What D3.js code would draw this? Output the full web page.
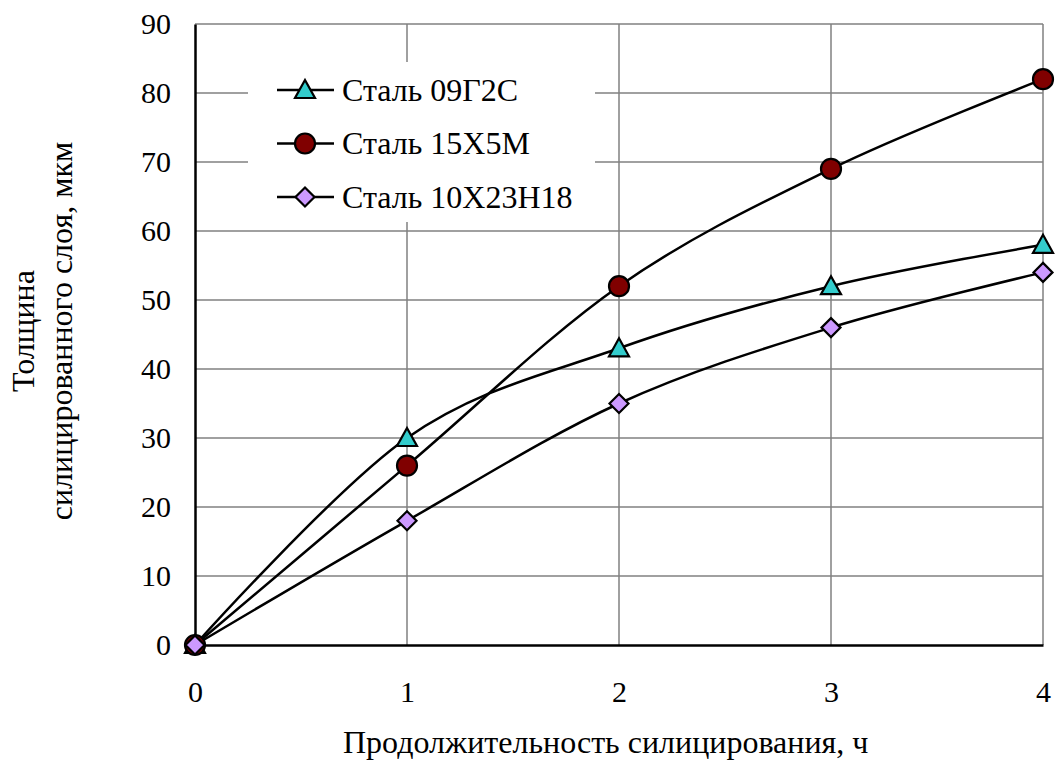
<!DOCTYPE html>
<html>
<head>
<meta charset="utf-8">
<script src="https://cdn.jsdelivr.net/npm/d3@7"></script>
</head>
<body style="margin:0;background:#fff">
<div id="chart"></div>
<script>
// data
var hours = [0, 1, 2, 3, 4];
var steel09 = [0, 30, 43, 52, 58];
var steel15 = [0, 26, 52, 69, 82];
var steel10 = [0, 18, 35, 46, 54];
var seriesNames = ["Сталь 09Г2С", "Сталь 15Х5М", "Сталь 10Х23Н18"];
var yTicks = [0, 10, 20, 30, 40, 50, 60, 70, 80, 90];
var xTicks = [0, 1, 2, 3, 4];

var width = 1056, height = 762;
var plotLeft = 195, plotRight = 1043, plotTop = 24, plotBottom = 645;
var FONT = "Liberation Serif";

var svg = d3.select("#chart").append("svg")
    .attr("width", width)
    .attr("height", height)
    .attr("font-family", FONT);

var x = d3.scaleLinear().domain([0, 4]).range([plotLeft, plotRight]);
var y = d3.scaleLinear().domain([0, 90]).range([plotBottom, plotTop]);

// grid
svg.append("g").selectAll("line")
    .data(yTicks.slice(1))
    .enter().append("line")
    .attr("x1", plotLeft).attr("x2", plotRight)
    .attr("y1", function (d) { return y(d); })
    .attr("y2", function (d) { return y(d); })
    .attr("stroke", "#808080").attr("stroke-width", 1.5);

svg.append("g").selectAll("line")
    .data(xTicks.slice(1))
    .enter().append("line")
    .attr("y1", plotTop).attr("y2", plotBottom)
    .attr("x1", function (d) { return x(d); })
    .attr("x2", function (d) { return x(d); })
    .attr("stroke", "#808080").attr("stroke-width", 1.5);

// legend background hides the grid
svg.append("rect")
    .attr("x", 248).attr("y", 62)
    .attr("width", 347).attr("height", 160)
    .attr("fill", "#fff");

// axes
var yAxis = svg.append("g")
    .attr("transform", "translate(" + plotLeft + ",0)")
    .call(d3.axisLeft(y).tickValues(yTicks).tickSize(0).tickPadding(24));
var xAxis = svg.append("g")
    .attr("transform", "translate(0," + plotBottom + ")")
    .call(d3.axisBottom(x).tickValues(xTicks).tickSize(0).tickPadding(36).tickFormat(d3.format("d")));

[yAxis, xAxis].forEach(function (a) {
    a.attr("font-family", FONT).attr("font-size", 30);
    a.select(".domain").attr("stroke", "#000").attr("stroke-width", 2.5);
    a.selectAll(".tick text").attr("fill", "#000");
});

// lines
var series = [
    { name: seriesNames[0], values: steel09, shape: "triangle", fill: "#33CCCC" },
    { name: seriesNames[1], values: steel15, shape: "circle", fill: "#800000" },
    { name: seriesNames[2], values: steel10, shape: "diamond", fill: "#CC99FF" }
];

var line = d3.line()
    .x(function (d) { return x(d[0]); })
    .y(function (d) { return y(d[1]); })
    .curve(d3.curveCardinal.tension(0));

function drawMarker(g, shape, fill) {
    if (shape === "circle") {
        g.append("circle").attr("r", 10);
    } else if (shape === "triangle") {
        g.append("path").attr("d", "M0,-10L10,8L-10,8Z");
    } else {
        g.append("path").attr("d", "M0,-9.5L9.5,0L0,9.5L-9.5,0Z");
    }
    g.selectAll("*").attr("fill", fill).attr("stroke", "#000").attr("stroke-width", 2.2);
}

series.forEach(function (s) {
    var pts = hours.map(function (h, i) { return [h, s.values[i]]; });
    svg.append("path")
        .attr("d", line(pts))
        .attr("fill", "none")
        .attr("stroke", "#000")
        .attr("stroke-width", 2.5);
});

series.forEach(function (s) {
    hours.forEach(function (h, i) {
        var g = svg.append("g")
            .attr("transform", "translate(" + x(h) + "," + y(s.values[i]) + ")");
        drawMarker(g, s.shape, s.fill);
    });
});

// legend
series.forEach(function (s, i) {
    var cy = 90 + i * 53.5;
    svg.append("line")
        .attr("x1", 277).attr("x2", 334)
        .attr("y1", cy).attr("y2", cy)
        .attr("stroke", "#000").attr("stroke-width", 2.5);
    var g = svg.append("g").attr("transform", "translate(305," + cy + ")");
    drawMarker(g, s.shape, s.fill);
    svg.append("text")
        .attr("x", 342).attr("y", cy)
        .attr("dy", "0.34em")
        .attr("font-family", FONT)
        .attr("font-size", 32)
        .attr("fill", "#000")
        .text(s.name);
});

// axis titles
svg.append("text")
    .attr("x", 343).attr("y", 753)
    .attr("font-family", FONT)
    .attr("font-size", 32)
    .attr("fill", "#000")
    .text("Продолжительность силицирования, ч");

var yt = svg.append("text")
    .attr("transform", "translate(0,331) rotate(-90)")
    .attr("text-anchor", "middle")
    .attr("font-family", FONT)
    .attr("font-size", 32)
    .attr("fill", "#000");
yt.append("tspan").attr("x", 0).attr("y", 34).text("Толщина");
yt.append("tspan").attr("x", 0).attr("y", 72).text("силицированного слоя, мкм");
</script>
</body>
</html>
